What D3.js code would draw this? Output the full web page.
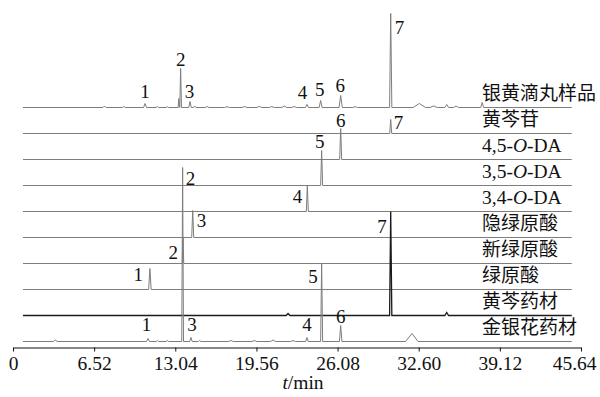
<!DOCTYPE html>
<html>
<head>
<meta charset="utf-8">
<script src="https://cdn.jsdelivr.net/npm/d3@7"></script>
<style>
  body { margin: 0; background: #fff; }
  svg { display: block; }
</style>
</head>
<body>
<div id="chart"></div>
<script>
// trace names, top to bottom
const traceNames = ["银黄滴丸样品", "黄芩苷", "4,5-O-DA", "3,5-O-DA", "3,4-O-DA",
                    "隐绿原酸", "新绿原酸", "绿原酸", "黄芩药材", "金银花药材"];

// peaks: [retention time (min), height, half width (min), peak no.]
const samplePeaks = [
    [7.35, 1.5, 0.12], [8.9, 1, 0.12], [10.61, 4, 0.12, "1"], [11.6, 1, 0.1], [12.4, 0.8, 0.1],
    [13.33, 9, 0.06], [13.47, 39, 0.07, "2"], [14.22, 6, 0.1, "3"], [14.6, 1.5, 0.1],
    [15.6, 1, 0.15], [17.2, 0.8, 0.2], [18.6, 1, 0.2], [19.8, 1.2, 0.2], [20.8, 1, 0.2],
    [21.8, 1.5, 0.2], [22.6, 1, 0.2], [23.62, 3, 0.12, "4"], [24.72, 7, 0.12, "5"],
    [26.33, 12, 0.13, "6"], [27.5, 0.8, 0.2], [30.35, 94, 0.09, "7"], [32.65, 4, 0.5],
    [33.8, 1.5, 0.3], [34.85, 3, 0.15], [35.6, 1.5, 0.2], [37.7, 5, 0.12]
];
const baicalinPeaks = [[30.35, 14, 0.08, "7"]];
const da45Peaks = [[26.33, 31, 0.08, "6"]];
const da35Peaks = [[24.8, 35, 0.08, "5"]];
const da34Peaks = [[23.65, 26, 0.08, "4"]];
const cryptoPeaks = [[14.44, 27, 0.08, "3"]];
const neoPeaks = [[13.66, 26, 0.06, "2"]];
const chloroPeaks = [[11.0, 21, 0.1, "1"]];
const scutPeaks = [[22.1, 2, 0.15], [30.35, 104, 0.09, "7"], [34.85, 3, 0.15]];
const loniceraPeaks = [
    [3.4, 1.5, 0.15], [10.85, 3, 0.12, "1"], [11.6, 1, 0.1], [12.4, 1, 0.1],
    [13.63, 174, 0.07, "2"], [14.3, 4, 0.1, "3"], [15.0, 1, 0.1], [17.5, 1, 0.2],
    [19.4, 1, 0.2], [20.9, 1.5, 0.2], [22.5, 1, 0.2], [23.62, 4, 0.1, "4"],
    [24.8, 78, 0.08, "5"], [26.33, 16, 0.1, "6"], [32.05, 8, 0.5]
];
const tracePeaks = [samplePeaks, baicalinPeaks, da45Peaks, da35Peaks, da34Peaks,
                    cryptoPeaks, neoPeaks, chloroPeaks, scutPeaks, loniceraPeaks];

const tickValues = [0, 6.52, 13.04, 19.56, 26.08, 32.60, 39.12, 45.64];
const tickLabels = ["0", "6.52", "13.04", "19.56", "26.08", "32.60", "39.12", "45.64"];

// recorded time range of every trace
const runStart = 0.8, runEnd = 44.9;

// where each peak number sits: trace:label -> side, nudges
const labelPlace = {
    "0:1": {side: "top", dx: 0, dy: -6}, "0:2": {side: "top", dx: 0, dy: -3},
    "0:3": {side: "top", dx: -0.5, dy: -4}, "0:4": {side: "top", dx: -4.5, dy: -6},
    "0:5": {side: "top", dx: -1, dy: -5}, "0:6": {side: "top", dx: -0.5, dy: -4},
    "0:7": {side: "right", dx: 4, dy: 20},
    "1:7": {side: "right", dx: 3, dy: 9},
    "2:6": {side: "top", dx: 0, dy: -2},
    "3:5": {side: "top", dx: -2, dy: -3},
    "4:4": {side: "left", dx: -5, dy: 17},
    "5:3": {side: "right", dx: 4, dy: 16},
    "6:2": {side: "left", dx: -5, dy: 21},
    "7:1": {side: "left", dx: -7, dy: 12},
    "8:7": {side: "left", dx: -4, dy: 21},
    "9:1": {side: "top", dx: -1.5, dy: -8}, "9:2": {side: "right", dx: 3, dy: 17},
    "9:3": {side: "top", dx: 1, dy: -7}, "9:4": {side: "top", dx: 0, dy: -7},
    "9:5": {side: "left", dx: -4, dy: 19}, "9:6": {side: "top", dx: 0, dy: -3}
};

const width = 600, height = 397;
const step = 26;          // vertical offset between traces
const serif = "'Liberation Serif', 'Times New Roman', serif";
const cjk = "'Noto Sans CJK SC', sans-serif";

const svg = d3.select("#chart").append("svg")
    .attr("width", width)
    .attr("height", height);

const x = d3.scaleLinear().domain([0, 45.64]).range([13, 581]);
const y = d3.scaleLinear().domain([0, 341]).range([341.5, 0.5]);

const line = d3.line()
    .x(d => x(d[0]))
    .y(d => y(d[1]));

const n = traceNames.length;

tracePeaks.forEach((peaks, i) => {
    let offset = (n - 1 - i) * step;

    // baseline with each peak as a narrow spike
    let pts = [[runStart, offset]];
    peaks.forEach(p => {
        pts.push([p[0] - p[2], offset]);
        pts.push([p[0], offset + p[1]]);
        pts.push([p[0] + p[2], offset]);
    });
    pts.push([runEnd, offset]);

    let isScut = traceNames[i] === "黄芩药材";
    svg.append("path")
        .attr("d", line(pts))
        .attr("fill", "none")
        .attr("stroke", isScut ? "#1a1a1a" : "#7d7d7d")
        .attr("stroke-width", isScut ? 1.3 : 1);

    // peak numbers
    peaks.filter(p => p[3]).forEach(p => {
        let place = labelPlace[i + ":" + p[3]] || {side: "top", dx: 0, dy: -4};
        let anchor = place.side === "top" ? "middle" : (place.side === "left" ? "end" : "start");
        svg.append("text")
            .attr("x", x(p[0]) + place.dx)
            .attr("y", y(offset + p[1]) + place.dy)
            .attr("text-anchor", anchor)
            .attr("font-family", serif)
            .attr("font-size", 19)
            .attr("fill", "#111")
            .text(p[3]);
    });

    // trace name on the right
    let label = svg.append("text")
        .attr("x", 482)
        .attr("y", y(offset) - 7.5)
        .attr("fill", "#111");
    if (traceNames[i].includes("-O-")) {
        let parts = traceNames[i].split("O");
        label.attr("font-family", serif).attr("font-size", 19.5);
        label.append("tspan").text(parts[0]);
        label.append("tspan").attr("font-style", "italic").text("O");
        label.append("tspan").text(parts[1]);
    } else {
        label.attr("font-family", cjk).attr("font-size", 19).text(traceNames[i]);
    }
});

// x axis
const xAxis = d3.axisBottom(x)
    .tickValues(tickValues)
    .tickFormat((d, k) => tickLabels[k])
    .tickSize(4)
    .tickSizeOuter(0)
    .tickPadding(5);

const gx = svg.append("g")
    .attr("transform", "translate(0,347.5)")
    .call(xAxis);
gx.select(".domain").attr("stroke", "#111");
gx.selectAll(".tick line").attr("stroke", "#111");
gx.selectAll(".tick text")
    .attr("font-family", serif)
    .attr("font-size", 19.5)
    .attr("fill", "#111");
// last label is pulled in so it stays inside the frame
gx.selectAll(".tick text")
    .filter((d, k) => k === tickValues.length - 1)
    .attr("text-anchor", "end")
    .attr("dx", 15);

// axis title
const title = svg.append("text")
    .attr("x", 303)
    .attr("y", 389)
    .attr("text-anchor", "middle")
    .attr("font-family", serif)
    .attr("font-size", 19.5)
    .attr("fill", "#111");
title.append("tspan").attr("font-style", "italic").text("t");
title.append("tspan").text("/min");
</script>
</body>
</html>
